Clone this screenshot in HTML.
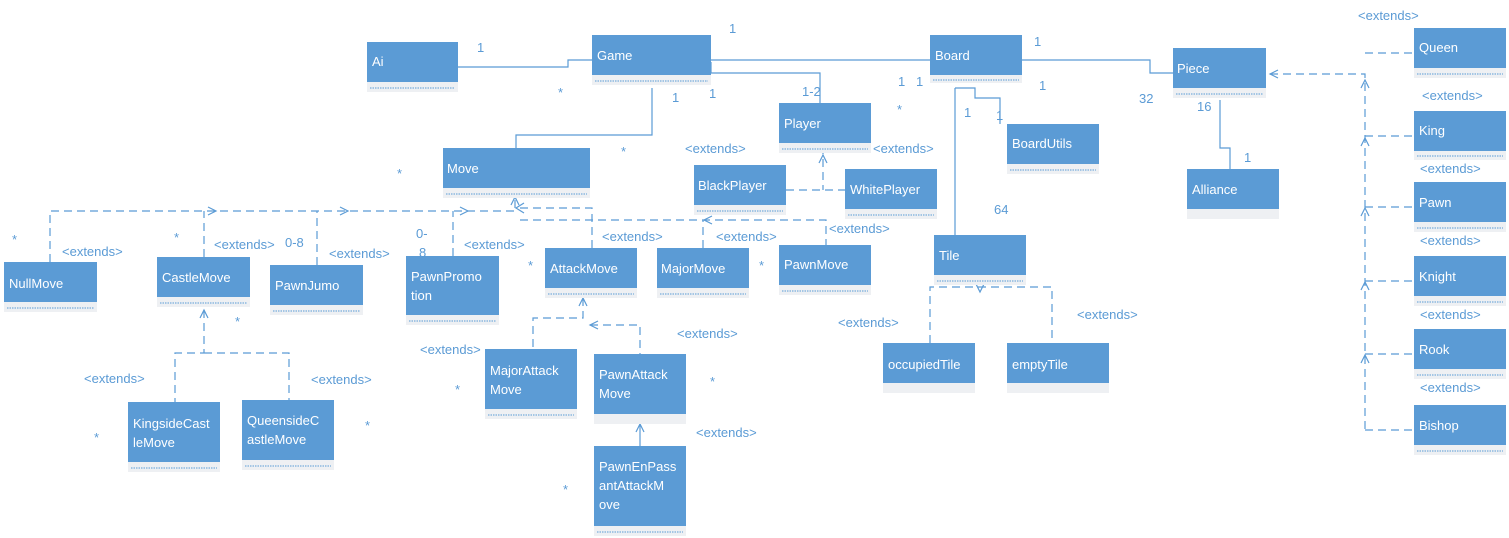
<!DOCTYPE html>
<html><head><meta charset="utf-8"><style>
body{margin:0;background:#fff;}
svg{display:block;font-family:"Liberation Sans",sans-serif;}
.b{fill:#5b9bd5;}
.s{fill:#eef0f3;}
.d{stroke:#5b9bd5;stroke-width:1;stroke-dasharray:1.5 1;}
.t{fill:#fff;font-size:13px;}
.l{fill:#5b9bd5;font-size:13px;}
.c{stroke:#5b9bd5;fill:none;stroke-width:1.2;}
.x{stroke:#5b9bd5;fill:none;stroke-width:1.2;stroke-dasharray:8 5;}
</style></head><body>
<svg width="1509" height="538" viewBox="0 0 1509 538">
<defs>
<g id="ah"><path d="M-4,8 L0,0 L4,8" class="c"/></g>
</defs>
<!-- solid connectors -->
<path class="c" d="M458,67 H568 V60 H592"/>
<path class="c" d="M711,60 H930"/>
<path class="c" d="M711,62 V73 H820 V103"/>
<path class="c" d="M652,88 V135 H516 V148"/>
<path class="c" d="M1022,60 H1150 V73 H1173"/>
<path class="c" d="M955,88 H975 V98 H1000 V124"/>
<path class="c" d="M955,88 V235"/>
<path class="c" d="M1220,100 V148 H1230 V169"/>
<path class="c" d="M640,446 V424"/><path class="c" d="M636,432 L640,424 L644,432"/>
<!-- dashed connectors -->
<path class="x" d="M1270,74 H1365 V430"/>
<path class="c" d="M1278,70 L1270,74 L1278,78"/>
<path class="x" d="M1365,53 H1414 M1365,136 H1414 M1365,207 H1414 M1365,281 H1414 M1365,354 H1414 M1365,430 H1414"/>
<g transform="translate(1365,80)"><use href="#ah"/></g>
<g transform="translate(1365,138)"><use href="#ah"/></g>
<g transform="translate(1365,208)"><use href="#ah"/></g>
<g transform="translate(1365,282)"><use href="#ah"/></g>
<g transform="translate(1365,355)"><use href="#ah"/></g>
<path class="x" d="M50,262 V211 H515 M204,257 V211 M317,265 V211 M453,256 V211"/>
<path class="c" d="M208,207 L216,211 L208,215 M340,207 L348,211 L340,215 M460,207 L468,211 L460,215"/>
<path class="x" d="M515,200 V208 H592 V248"/>
<path class="x" d="M520,220 H826 V245 M703,248 V220"/>
<path class="c" d="M511,205 L515,197 L519,205 M524,203 L516,208 L524,213 M712,216 L704,220 L712,224"/>
<path class="x" d="M823,146 V190 M786,190 H845"/>
<path class="c" d="M819,163 L823,155 L827,163"/>
<path class="x" d="M980,277 V287 M930,343 V287 H1052 V343"/>
<path class="c" d="M976,284 L980,292 L984,284 M976,283 L980,275 L984,283"/>
<path class="x" d="M583,298 V318 H533 V349 M590,325 H640 V354"/>
<path class="c" d="M579,306 L583,298 L587,306 M598,321 L590,325 L598,329"/>
<path class="x" d="M204,310 V353 H175 V402 M204,353 H289 V400"/>
<path class="c" d="M200,318 L204,310 L208,318"/>
<!-- boxes -->
<g id="boxes">
<rect class="b" x="367" y="42" width="91" height="40"/><rect class="s" x="367" y="82" width="91" height="10"/><line class="d" x1="370" y1="88" x2="455" y2="88"/><text class="t" x="372" y="66">Ai</text>
<rect class="b" x="592" y="35" width="119" height="40"/><rect class="s" x="592" y="75" width="119" height="10"/><line class="d" x1="595" y1="81" x2="708" y2="81"/><text class="t" x="597" y="60">Game</text>
<rect class="b" x="930" y="35" width="92" height="40"/><rect class="s" x="930" y="75" width="92" height="8"/><line class="d" x1="933" y1="80" x2="1019" y2="80"/><text class="t" x="935" y="60">Board</text>
<rect class="b" x="1173" y="48" width="93" height="40"/><rect class="s" x="1173" y="88" width="93" height="10"/><line class="d" x1="1176" y1="94" x2="1263" y2="94"/><text class="t" x="1177" y="73">Piece</text>
<rect class="b" x="1414" y="28" width="92" height="40"/><rect class="s" x="1414" y="68" width="92" height="10"/><line class="d" x1="1417" y1="74" x2="1503" y2="74"/><text class="t" x="1419" y="52">Queen</text>
<rect class="b" x="1414" y="111" width="92" height="40"/><rect class="s" x="1414" y="151" width="92" height="9"/><line class="d" x1="1417" y1="156" x2="1503" y2="156"/><text class="t" x="1419" y="135">King</text>
<rect class="b" x="1414" y="182" width="92" height="40"/><rect class="s" x="1414" y="222" width="92" height="10"/><line class="d" x1="1417" y1="228" x2="1503" y2="228"/><text class="t" x="1419" y="207">Pawn</text>
<rect class="b" x="1414" y="256" width="92" height="40"/><rect class="s" x="1414" y="296" width="92" height="10"/><line class="d" x1="1417" y1="302" x2="1503" y2="302"/><text class="t" x="1419" y="281">Knight</text>
<rect class="b" x="1414" y="329" width="92" height="40"/><rect class="s" x="1414" y="369" width="92" height="10"/><line class="d" x1="1417" y1="375" x2="1503" y2="375"/><text class="t" x="1419" y="354">Rook</text>
<rect class="b" x="1414" y="405" width="92" height="40"/><rect class="s" x="1414" y="445" width="92" height="10"/><line class="d" x1="1417" y1="451" x2="1503" y2="451"/><text class="t" x="1419" y="430">Bishop</text>
<rect class="b" x="1187" y="169" width="92" height="40"/><rect class="s" x="1187" y="209" width="92" height="10"/><text class="t" x="1192" y="194">Alliance</text>
<rect class="b" x="1007" y="124" width="92" height="40"/><rect class="s" x="1007" y="164" width="92" height="10"/><line class="d" x1="1010" y1="170" x2="1096" y2="170"/><text class="t" x="1012" y="148">BoardUtils</text>
<rect class="b" x="779" y="103" width="92" height="40"/><rect class="s" x="779" y="143" width="92" height="10"/><line class="d" x1="782" y1="149" x2="868" y2="149"/><text class="t" x="784" y="128">Player</text>
<rect class="b" x="694" y="165" width="92" height="40"/><rect class="s" x="694" y="205" width="92" height="10"/><line class="d" x1="697" y1="211" x2="783" y2="211"/><text class="t" x="698" y="190">BlackPlayer</text>
<rect class="b" x="845" y="169" width="92" height="40"/><rect class="s" x="845" y="209" width="92" height="10"/><line class="d" x1="848" y1="215" x2="934" y2="215"/><text class="t" x="850" y="194">WhitePlayer</text>
<rect class="b" x="443" y="148" width="147" height="40"/><rect class="s" x="443" y="188" width="147" height="10"/><line class="d" x1="446" y1="194" x2="587" y2="194"/><text class="t" x="447" y="173">Move</text>
<rect class="b" x="934" y="235" width="92" height="40"/><rect class="s" x="934" y="275" width="92" height="10"/><line class="d" x1="937" y1="281" x2="1023" y2="281"/><text class="t" x="939" y="260">Tile</text>
<rect class="b" x="883" y="343" width="92" height="40"/><rect class="s" x="883" y="383" width="92" height="10"/><text class="t" x="888" y="369">occupiedTile</text>
<rect class="b" x="1007" y="343" width="102" height="40"/><rect class="s" x="1007" y="383" width="102" height="10"/><text class="t" x="1012" y="369">emptyTile</text>
<rect class="b" x="4" y="262" width="93" height="40"/><rect class="s" x="4" y="302" width="93" height="10"/><line class="d" x1="7" y1="308" x2="94" y2="308"/><text class="t" x="9" y="288">NullMove</text>
<rect class="b" x="157" y="257" width="93" height="40"/><rect class="s" x="157" y="297" width="93" height="10"/><line class="d" x1="160" y1="303" x2="247" y2="303"/><text class="t" x="162" y="282">CastleMove</text>
<rect class="b" x="270" y="265" width="93" height="40"/><rect class="s" x="270" y="305" width="93" height="10"/><line class="d" x1="273" y1="311" x2="360" y2="311"/><text class="t" x="275" y="290">PawnJumo</text>
<rect class="b" x="406" y="256" width="93" height="59"/><rect class="s" x="406" y="315" width="93" height="10"/><line class="d" x1="409" y1="321" x2="496" y2="321"/><text class="t" x="411" y="281">PawnPromo</text><text class="t" x="411" y="300">tion</text>
<rect class="b" x="545" y="248" width="92" height="40"/><rect class="s" x="545" y="288" width="92" height="10"/><line class="d" x1="548" y1="294" x2="634" y2="294"/><text class="t" x="550" y="273">AttackMove</text>
<rect class="b" x="657" y="248" width="92" height="40"/><rect class="s" x="657" y="288" width="92" height="10"/><line class="d" x1="660" y1="294" x2="746" y2="294"/><text class="t" x="661" y="273">MajorMove</text>
<rect class="b" x="779" y="245" width="92" height="40"/><rect class="s" x="779" y="285" width="92" height="10"/><line class="d" x1="782" y1="291" x2="868" y2="291"/><text class="t" x="784" y="269">PawnMove</text>
<rect class="b" x="485" y="349" width="92" height="60"/><rect class="s" x="485" y="409" width="92" height="10"/><line class="d" x1="488" y1="415" x2="574" y2="415"/><text class="t" x="490" y="375">MajorAttack</text><text class="t" x="490" y="394">Move</text>
<rect class="b" x="594" y="354" width="92" height="60"/><rect class="s" x="594" y="414" width="92" height="10"/><text class="t" x="599" y="379">PawnAttack</text><text class="t" x="599" y="398">Move</text>
<rect class="b" x="594" y="446" width="92" height="80"/><rect class="s" x="594" y="526" width="92" height="10"/><line class="d" x1="597" y1="532" x2="683" y2="532"/><text class="t" x="599" y="471">PawnEnPass</text><text class="t" x="599" y="490">antAttackM</text><text class="t" x="599" y="509">ove</text>
<rect class="b" x="128" y="402" width="92" height="60"/><rect class="s" x="128" y="462" width="92" height="10"/><line class="d" x1="131" y1="468" x2="217" y2="468"/><text class="t" x="133" y="428">KingsideCast</text><text class="t" x="133" y="447">leMove</text>
<rect class="b" x="242" y="400" width="92" height="60"/><rect class="s" x="242" y="460" width="92" height="10"/><line class="d" x1="245" y1="466" x2="331" y2="466"/><text class="t" x="247" y="425">QueensideC</text><text class="t" x="247" y="444">astleMove</text>
</g>
<!-- labels -->
<g class="l">
<text x="477" y="52">1</text><text x="558" y="97">*</text><text x="729" y="33">1</text>
<text x="672" y="102">1</text><text x="709" y="98">1</text><text x="802" y="96">1-2</text>
<text x="1034" y="46">1</text><text x="898" y="86">1</text><text x="916" y="86">1</text><text x="1039" y="90">1</text>
<text x="897" y="114">*</text><text x="964" y="117">1</text><text x="996" y="120">1</text>
<text x="1139" y="103">32</text><text x="1197" y="111">16</text><text x="1244" y="162">1</text>
<text x="994" y="214">64</text><text x="621" y="156">*</text><text x="397" y="178">*</text>
<text x="1358" y="20">&lt;extends&gt;</text><text x="1422" y="100">&lt;extends&gt;</text><text x="1420" y="173">&lt;extends&gt;</text>
<text x="1420" y="245">&lt;extends&gt;</text><text x="1420" y="319">&lt;extends&gt;</text><text x="1420" y="392">&lt;extends&gt;</text>
<text x="685" y="153">&lt;extends&gt;</text><text x="873" y="153">&lt;extends&gt;</text>
<text x="12" y="244">*</text><text x="62" y="256">&lt;extends&gt;</text>
<text x="174" y="242">*</text><text x="214" y="249">&lt;extends&gt;</text><text x="285" y="247">0-8</text>
<text x="329" y="258">&lt;extends&gt;</text><text x="416" y="238">0-</text><text x="419" y="257">8</text>
<text x="464" y="249">&lt;extends&gt;</text><text x="602" y="241">&lt;extends&gt;</text><text x="716" y="241">&lt;extends&gt;</text>
<text x="829" y="233">&lt;extends&gt;</text><text x="528" y="270">*</text><text x="759" y="270">*</text>
<text x="235" y="326">*</text><text x="838" y="327">&lt;extends&gt;</text><text x="1077" y="319">&lt;extends&gt;</text>
<text x="677" y="338">&lt;extends&gt;</text><text x="420" y="354">&lt;extends&gt;</text>
<text x="84" y="383">&lt;extends&gt;</text><text x="311" y="384">&lt;extends&gt;</text>
<text x="455" y="394">*</text><text x="710" y="386">*</text><text x="365" y="430">*</text><text x="94" y="442">*</text>
<text x="696" y="437">&lt;extends&gt;</text><text x="563" y="494">*</text>
</g>
</svg>
</body></html>
